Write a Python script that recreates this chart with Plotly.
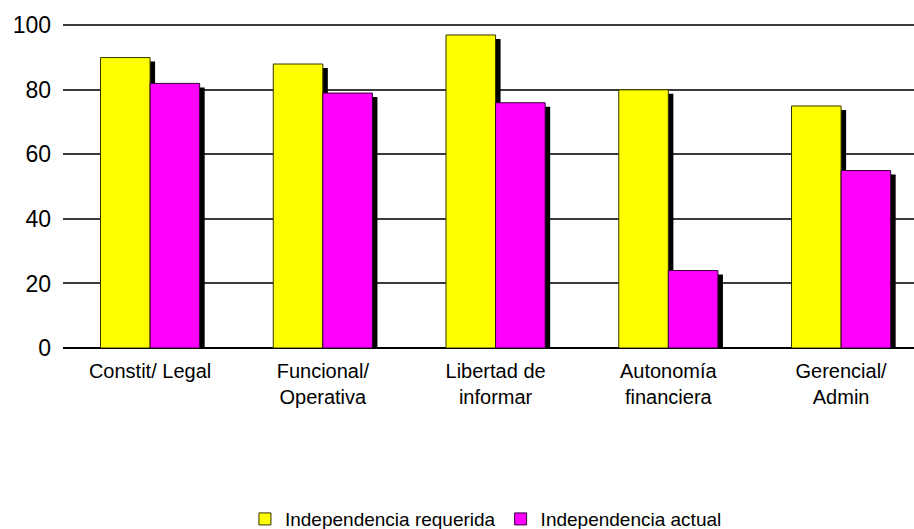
import plotly.graph_objects as go

categories = ["Constit/ Legal", "Funcional/<br>Operativa", "Libertad de<br>informar",
              "Autonomía<br>financiera", "Gerencial/<br>Admin"]
requerida = [90, 88, 97, 80, 75]
actual = [82, 79, 76, 24, 55]
series_names = ["Independencia requerida", "Independencia actual"]
y_ticks = [0, 20, 40, 60, 80, 100]

x = list(range(len(categories)))
W = 0.287          # bar width in category units
SDX = 0.029        # shadow shift right
SDY = 1.25         # shadow shift down (value units)
FONT = "Liberation Sans, Arial, sans-serif"

fig = go.Figure()
# shadows
fig.add_trace(go.Bar(x=x, y=[v - SDY for v in requerida], width=W, offset=-W + SDX,
                     marker=dict(color="black", line=dict(width=0)),
                     showlegend=False, hoverinfo="skip"))
fig.add_trace(go.Bar(x=x, y=[v - SDY for v in actual], width=W, offset=SDX,
                     marker=dict(color="black", line=dict(width=0)),
                     showlegend=False, hoverinfo="skip"))
# bars
fig.add_trace(go.Bar(x=x, y=requerida, width=W, offset=-W, name=series_names[0],
                     marker=dict(color="#FFFF00", line=dict(color="#333300", width=1))))
fig.add_trace(go.Bar(x=x, y=actual, width=W, offset=0, name=series_names[1],
                     marker=dict(color="#FF00FF", line=dict(color="#330033", width=1))))

fig.update_layout(
    width=914, height=529,
    margin=dict(l=63, r=0, t=24, b=181, autoexpand=False),
    barmode="overlay",
    paper_bgcolor="white", plot_bgcolor="white",
    font=dict(family=FONT, color="black"),
    showlegend=True,
    legend=dict(orientation="h", x=0.497, xanchor="center", y=-0.528, yanchor="middle",
                font=dict(size=19, family=FONT), traceorder="normal",
                itemwidth=30),
    xaxis=dict(range=[-0.504, 4.422], tickvals=x, ticktext=categories,
               showgrid=False, zeroline=False, showline=False,
               tickfont=dict(size=20, family=FONT), ticks="", ticklabelstandoff=9),
    yaxis=dict(range=[0, 100.4], tickvals=y_ticks, showgrid=True,
               gridcolor="#3a3a3a", gridwidth=1.5, zeroline=True,
               zerolinecolor="black", zerolinewidth=2, showline=False,
               tickfont=dict(size=23, family=FONT), ticks="", ticklabelstandoff=11),
)

fig.write_html("out.html", config={"displayModeBar": False},
               post_script="document.body.style.margin='0';document.body.style.overflow='hidden';")
